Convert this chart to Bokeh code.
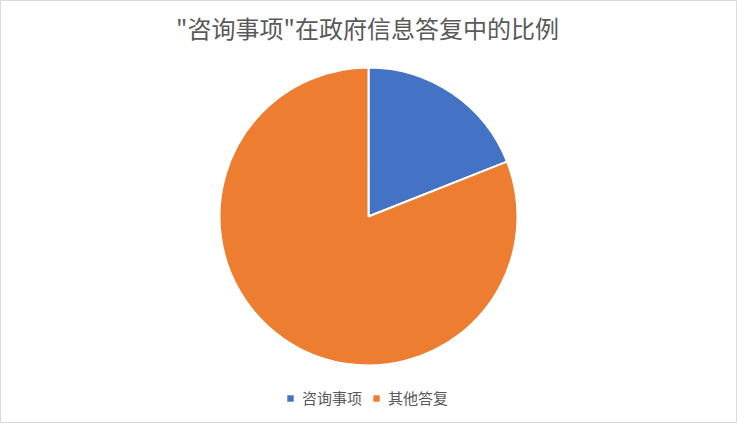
import math
from bokeh.plotting import figure
from bokeh.models import Range1d, Label, Legend, LegendItem, ColumnDataSource
from bokeh.embed import file_html
from bokeh.resources import INLINE

title = '"咨询事项"在政府信息答复中的比例'
categories = ["咨询事项", "其他答复"]
values = [19, 81]
colors = ["#4472C4", "#ED7D31"]

W, H = 737, 423
FONT = "Noto Sans CJK SC"
TXT = "#595959"

p = figure(width=W, height=H, output_backend="svg", toolbar_location=None,
           x_range=Range1d(0, W), y_range=Range1d(0, H), min_border=0)
p.axis.visible = False
p.grid.visible = False
p.outline_line_color = "#D9D9D9"
p.background_fill_color = "white"
p.border_fill_color = "white"

cx, cy, r = 368, 207, 149
total = sum(values)
start = math.pi / 2
starts, ends = [], []
for v in values:
    sweep = 2 * math.pi * v / total
    ends.append(start)
    starts.append(start - sweep)
    start -= sweep

src = ColumnDataSource(dict(x=[cx] * len(values), y=[cy] * len(values),
                            start=starts, end=ends, color=colors, cat=categories))
p.wedge(x="x", y="y", radius=r, start_angle="start", end_angle="end",
        fill_color="color", line_color="white", line_width=2, source=src)

p.add_layout(Label(x=367, y=H - 27, text=title, text_align="center",
                   text_baseline="middle", text_font=FONT, text_font_size="24px",
                   text_color=TXT))

items = []
for cat, col in zip(categories, colors):
    rr = p.quad(left=[-1000], right=[-999], bottom=[-1000], top=[-999],
                fill_color=col, line_color=None)
    items.append(LegendItem(label=cat, renderers=[rr]))
leg = Legend(items=items, orientation="horizontal", location=(286, 15),
             glyph_width=8, glyph_height=8, label_text_font=FONT,
             label_text_font_size="15px", label_text_color=TXT,
             border_line_color=None, background_fill_alpha=0,
             spacing=10, label_standoff=8, padding=0, margin=0)
p.add_layout(leg, "center")

open("out.html", "w").write(file_html(p, INLINE))
